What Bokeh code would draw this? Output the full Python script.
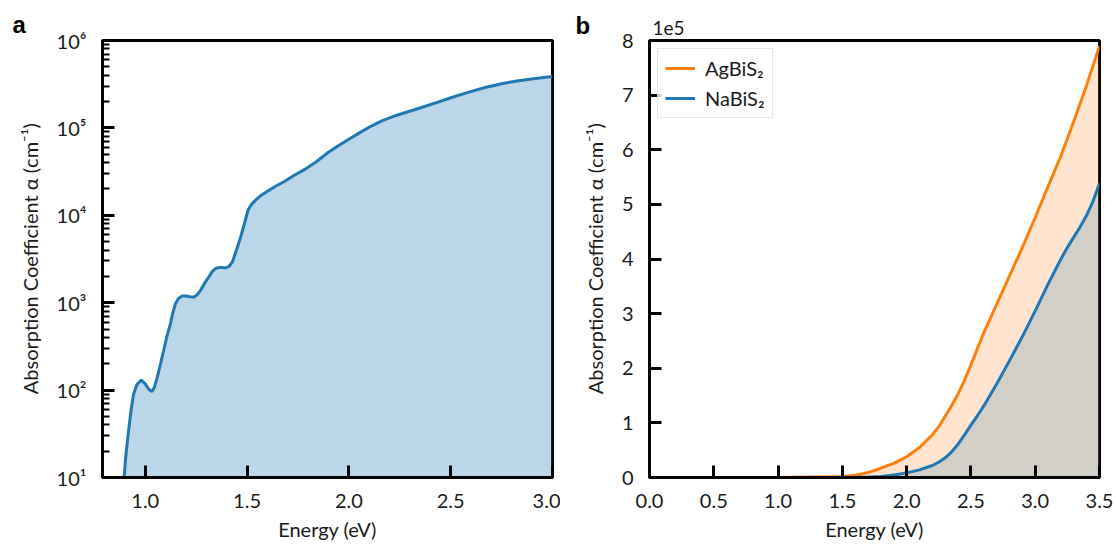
from bokeh.plotting import figure
from bokeh.layouts import row
from bokeh.models import Range1d, FixedTicker, CustomJSTickFormatter, Title
from bokeh.embed import file_html
from bokeh.resources import INLINE

# ---------------- data: panel a (log scale) ----------------
energy_a = [0.885, 0.896, 0.905, 0.918, 0.930, 0.942, 0.959, 0.980, 1.000, 1.018,
            1.033, 1.045, 1.058, 1.075, 1.090, 1.105, 1.123, 1.135, 1.148, 1.163,
            1.181, 1.200, 1.220, 1.240, 1.255, 1.271, 1.290, 1.312, 1.330, 1.345,
            1.360, 1.378, 1.395, 1.410, 1.428, 1.448, 1.469, 1.488, 1.505, 1.520,
            1.543, 1.570, 1.600, 1.640, 1.683, 1.730, 1.781, 1.840, 1.896, 1.950,
            2.012, 2.060, 2.110, 2.165, 2.225, 2.290, 2.357, 2.430, 2.505, 2.585,
            2.669, 2.750, 2.834, 2.915, 3.000]
alpha_a = [5, 10, 18, 34, 58, 89, 116, 130, 118, 102,
           96, 108, 138, 200, 282, 400, 570, 760, 970, 1120,
           1190, 1190, 1170, 1165, 1230, 1380, 1650, 1970, 2280, 2460,
           2520, 2520, 2500, 2580, 2930, 4000, 5690, 8200, 11500, 13200,
           15000, 17000, 18800, 21500, 24400, 28500, 33300, 41000, 51900, 63000,
           77100, 90000, 105000, 121000, 137000, 153000, 171000, 195000, 223000, 255000,
           290000, 320000, 347000, 368000, 388000]

# ---------------- data: panel b (linear scale) ----------------
energy_b = [0.0, 0.5, 1.0, 1.5, 1.6, 1.7, 1.8, 1.9, 2.0, 2.1, 2.2, 2.25, 2.3, 2.35,
            2.4, 2.45, 2.5, 2.55, 2.6, 2.7, 2.8, 2.9, 3.0, 3.1, 3.2, 3.25, 3.3, 3.35, 3.4, 3.45, 3.5]
agbis2 = [0, 0, 0, 2000, 4000, 9000, 17000, 26000, 38000, 55000, 78000, 93000, 112000, 132000,
          153000, 178000, 206000, 236000, 265000, 317000, 369000, 421000, 476000, 533000, 589000,
          620000, 652000, 685000, 718000, 754000, 790000]
nabis2 = [0, 0, 0, 0, 300, 800, 2000, 4500, 8500, 14000, 22000, 28000, 36000, 47000,
          61000, 78000, 96000, 113000, 131000, 171000, 214000, 258000, 305000, 354000, 400000,
          421000, 440000, 459000, 480000, 506000, 538000]

x_ticks_a = [1.0, 1.5, 2.0, 2.5, 3.0]
y_ticks_a = [1e1, 1e2, 1e3, 1e4, 1e5, 1e6]
x_ticks_b = [0.0, 0.5, 1.0, 1.5, 2.0, 2.5, 3.0, 3.5]
y_ticks_b = [0, 1e5, 2e5, 3e5, 4e5, 5e5, 6e5, 7e5, 8e5]

BLUE = "#1f77b4"
ORANGE = "#ff7f0e"
FONT = "Lato"
FS = "20px"
TXT = "#1a1a1a"
YLABEL = "Absorption Coefficient \u03b1 (cm\u207b\u00b9)"


def style(p):
    p.xgrid.visible = False
    p.ygrid.visible = False
    p.outline_line_color = "black"
    p.outline_line_width = 3
    p.outline_line_alpha = 1
    p.background_fill_color = "white"
    p.border_fill_color = "white"
    for ax in p.axis:
        ax.axis_line_width = 3
        ax.axis_line_color = "black"
        ax.major_tick_line_width = 3
        ax.major_tick_line_color = "black"
        ax.major_tick_in = 12
        ax.major_tick_out = 0
        ax.minor_tick_in = 0
        ax.minor_tick_out = 0
        ax.major_label_text_font = FONT
        ax.major_label_text_font_size = FS
        ax.major_label_text_color = TXT
        ax.axis_label_text_font = FONT
        ax.axis_label_text_font_size = FS
        ax.axis_label_text_font_style = "normal"
        ax.axis_label_text_color = TXT
    p.xaxis.major_label_standoff = 16
    p.xaxis.axis_label_standoff = 6
    p.yaxis.major_label_standoff = 16
    p.yaxis.axis_label_standoff = 12


def panel_letter(text, offset, standoff):
    return Title(text=text, align="left", offset=offset, standoff=standoff,
                 text_font="Liberation Sans", text_font_style="bold",
                 text_font_size="24px", text_color="black")


# ---------------- panel a ----------------
p1 = figure(width=560, height=544, x_range=Range1d(0.79, 3.0), y_range=Range1d(10, 1e6),
            y_axis_type="log", output_backend="svg", toolbar_location=None,
            min_border_left=102, min_border_right=8, min_border_top=40, min_border_bottom=67)
p1.varea(x=energy_a, y1=[1] * len(energy_a), y2=alpha_a, fill_color=BLUE, fill_alpha=0.3)
p1.line(energy_a, alpha_a, line_color=BLUE, line_width=3)
style(p1)
p1.xaxis.axis_label = "Energy (eV)"
p1.yaxis.axis_label = YLABEL
p1.xaxis.ticker = FixedTicker(ticks=x_ticks_a)
p1.xaxis.formatter = CustomJSTickFormatter(code="return tick.toFixed(1);")
minor = [m * d for d in [1e1, 1e2, 1e3, 1e4, 1e5] for m in range(2, 10)]
p1.yaxis.ticker = FixedTicker(ticks=y_ticks_a, minor_ticks=minor)
p1.yaxis.minor_tick_in = 7
p1.yaxis.minor_tick_line_width = 2
p1.yaxis.minor_tick_line_color = "black"
p1.yaxis.formatter = CustomJSTickFormatter(code="""
const sup = {'0':'\u2070','1':'\u00b9','2':'\u00b2','3':'\u00b3','4':'\u2074','5':'\u2075','6':'\u2076','7':'\u2077','8':'\u2078','9':'\u2079'};
const e = Math.round(Math.log10(tick));
return '10' + String(e).split('').map(c => sup[c]).join('');
""")
p1.add_layout(panel_letter("a", -90, 6), "above")

# ---------------- panel b ----------------
p2 = figure(width=556, height=544, x_range=Range1d(0, 3.5), y_range=Range1d(0, 8e5),
            output_backend="svg", toolbar_location=None,
            min_border_left=89, min_border_right=17, min_border_top=40, min_border_bottom=67)
p2.varea(x=energy_b, y1=[0] * len(energy_b), y2=agbis2, fill_color=ORANGE, fill_alpha=0.2)
p2.varea(x=energy_b, y1=[0] * len(energy_b), y2=nabis2, fill_color=BLUE, fill_alpha=0.2)
p2.line(energy_b, agbis2, line_color=ORANGE, line_width=3, legend_label="AgBiS\u2082")
p2.line(energy_b, nabis2, line_color=BLUE, line_width=3, legend_label="NaBiS\u2082")
style(p2)
p2.xaxis.axis_label = "Energy (eV)"
p2.yaxis.axis_label = YLABEL
p2.xaxis.ticker = FixedTicker(ticks=x_ticks_b)
p2.xaxis.formatter = CustomJSTickFormatter(code="return tick.toFixed(1);")
p2.yaxis.ticker = FixedTicker(ticks=y_ticks_b)
p2.yaxis.formatter = CustomJSTickFormatter(code="return (tick / 1e5).toFixed(0);")
p2.add_layout(Title(text="1e5", align="left", offset=3, standoff=12,
                    text_font=FONT, text_font_size="19px", text_font_style="normal",
                    text_color=TXT), "above")
p2.add_layout(panel_letter("b", -74, -52), "above")

lg = p2.legend[0]
lg.location = "top_left"
lg.margin = 8
lg.padding = 7
lg.spacing = 6
lg.border_line_color = "#cccccc"
lg.border_line_width = 1.5
lg.background_fill_alpha = 0.8
lg.label_text_font = FONT
lg.label_text_font_size = FS
lg.label_text_color = TXT
lg.glyph_width = 30
lg.glyph_height = 22
lg.label_height = 22
lg.label_standoff = 10

layout = row(p1, p2)
open("out.html", "w").write(file_html(layout, INLINE))
